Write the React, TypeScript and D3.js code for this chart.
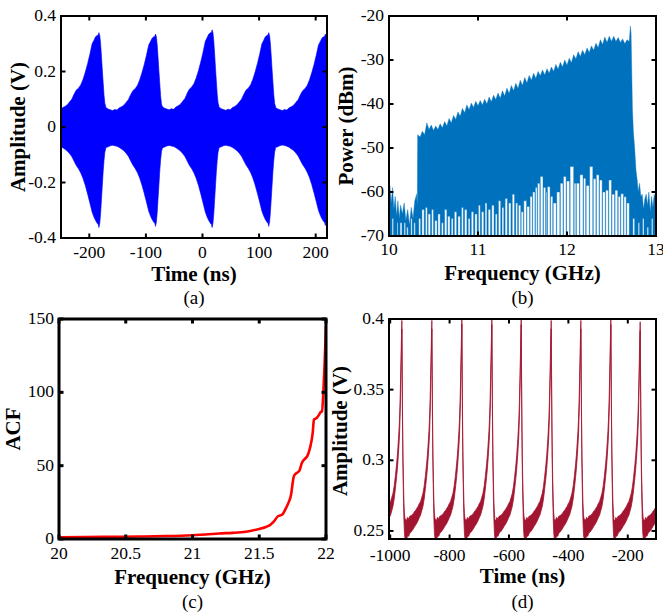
import React from 'react';
import * as d3 from 'd3';

const W = 663, H = 615;
const FONT = '"Liberation Serif", "Times New Roman", serif';

// ---------- Panel (a): time trace envelope ----------
const aTicksX = [-200, -100, 0, 100, 200];
const aTicksY = [-0.4, -0.2, 0, 0.2, 0.4];
const aPhase = [-88, -84, -80, -76, -72, -68, -64, -60, -56, -52, -48, -44, -40, -36, -32, -28, -24, -20, -16, -12, -9, -6, -3, -1, 0, 1.5, 3, 4.5, 6, 7.5, 9, 10.5, 12];
const aUpper = [0.072, 0.066, 0.063, 0.060, 0.064, 0.062, 0.070, 0.074, 0.080, 0.090, 0.100, 0.118, 0.133, 0.140, 0.152, 0.172, 0.198, 0.228, 0.262, 0.300, 0.312, 0.325, 0.330, 0.332, 0.340, 0.330, 0.300, 0.255, 0.205, 0.160, 0.115, 0.085, 0.074];
const aLower = [-0.075, -0.072, -0.068, -0.066, -0.068, -0.070, -0.074, -0.080, -0.086, -0.095, -0.106, -0.122, -0.138, -0.150, -0.165, -0.185, -0.210, -0.240, -0.272, -0.305, -0.322, -0.335, -0.345, -0.350, -0.360, -0.345, -0.310, -0.260, -0.210, -0.160, -0.120, -0.090, -0.078];
const aPeakTimes = [-183, -83, 17, 117, 217];
const aPeakUpper = [0.340, 0.335, 0.350, 0.340, 0.335];
const aPeakLower = [-0.362, -0.358, -0.362, -0.358, -0.355];

// ---------- Panel (b): spectrum ----------
const bTicksX = [10, 11, 12, 13];
const bTicksY = [-70, -60, -50, -40, -30, -20];
const bUpper: [number, number][] = [
  [10.00, -60], [10.01, -58.5], [10.025, -62.5], [10.04, -59], [10.055, -64], [10.07, -61], [10.085, -65.5], [10.10, -62],
  [10.115, -66], [10.13, -63], [10.15, -65], [10.17, -62.5], [10.19, -66.5], [10.21, -64], [10.23, -67.5], [10.25, -63.5],
  [10.27, -66], [10.29, -62], [10.31, -60.5], [10.318, -63], [10.322, -47], [10.35, -47.5], [10.375, -46.2], [10.40, -47],
  [10.425, -44.3], [10.45, -45.8], [10.475, -44.8], [10.50, -46], [10.525, -45], [10.55, -45.8], [10.575, -44.5], [10.60, -45.4],
  [10.625, -44], [10.65, -45], [10.675, -43.3], [10.70, -44.3], [10.725, -42.6], [10.75, -43.5], [10.775, -41.8], [10.80, -42.8],
  [10.825, -41], [10.85, -42], [10.875, -40.2], [10.90, -41.3], [10.925, -39.8], [10.95, -40.8], [10.975, -39.4], [11.00, -40.4],
  [11.025, -39.2], [11.05, -40.2], [11.075, -38.9], [11.10, -40], [11.125, -38.4], [11.15, -39.5], [11.175, -38], [11.20, -39],
  [11.225, -37.5], [11.25, -38.7], [11.275, -37], [11.30, -38.2], [11.325, -36.4], [11.35, -37.6], [11.375, -35.8], [11.40, -37],
  [11.425, -35.3], [11.45, -36.5], [11.475, -34.6], [11.50, -35.8], [11.525, -34], [11.55, -35.2], [11.575, -33.5], [11.60, -34.6],
  [11.625, -33], [11.65, -34.2], [11.675, -32.6], [11.70, -33.6], [11.725, -32.3], [11.75, -33.4], [11.775, -32], [11.80, -33],
  [11.825, -31.6], [11.85, -32.6], [11.875, -31], [11.90, -32.1], [11.925, -30.5], [11.95, -31.6], [11.975, -30], [12.00, -31.2],
  [12.025, -29.6], [12.05, -30.6], [12.075, -28.8], [12.10, -29.8], [12.125, -28.1], [12.15, -29.2], [12.175, -27.8], [12.20, -28.8],
  [12.225, -27.3], [12.25, -28.3], [12.275, -26.8], [12.30, -27.8], [12.325, -26.2], [12.35, -27.2], [12.375, -25.4], [12.40, -26.5],
  [12.425, -24.8], [12.45, -26], [12.475, -24.6], [12.50, -25.8], [12.525, -24.6], [12.55, -25.8], [12.575, -24.9], [12.60, -26],
  [12.625, -25.2], [12.65, -26.3], [12.675, -25.4], [12.70, -25.8], [12.712, -22.3], [12.72, -24], [12.728, -33], [12.735, -41],
  [12.745, -46], [12.76, -50], [12.775, -55], [12.79, -57.5], [12.80, -60], [12.815, -58], [12.83, -61], [12.845, -60.5],
  [12.86, -64], [12.875, -61.5], [12.89, -60.5], [12.905, -63], [12.92, -60], [12.935, -64.5], [12.95, -61], [12.965, -63.5],
  [12.98, -60.5], [13.00, -62],
];
// white gaps below the spectrum: [start GHz, end GHz, top dBm]
const bGaps: [number, number, number][] = [
  [10.035, 10.05, -66], [10.09, 10.1, -67], [10.125, 10.145, -67], [10.17, 10.185, -67], [10.2, 10.215, -68], [10.245, 10.26, -66], [10.28, 10.295, -67],
  [10.335, 10.355, -66], [10.37, 10.395, -64], [10.41, 10.43, -63.5], [10.44, 10.465, -65], [10.48, 10.5, -64], [10.515, 10.54, -66.5], [10.55, 10.575, -65],
  [10.59, 10.61, -67], [10.625, 10.65, -64], [10.66, 10.685, -65.5], [10.70, 10.72, -66], [10.735, 10.76, -64.5], [10.775, 10.8, -65.5], [10.815, 10.835, -63.5],
  [10.85, 10.875, -64], [10.89, 10.91, -66], [10.925, 10.95, -64.5], [10.965, 10.99, -65], [11.005, 11.025, -63], [11.04, 11.065, -64.5], [11.08, 11.1, -62.5],
  [11.115, 11.14, -64], [11.155, 11.18, -63], [11.195, 11.215, -65], [11.23, 11.255, -62], [11.27, 11.29, -63.5], [11.305, 11.33, -61.5], [11.345, 11.37, -62.5],
  [11.385, 11.41, -60.5], [11.425, 11.445, -62.5],
  [11.455, 11.48, -63], [11.485, 11.51, -64.5], [11.515, 11.545, -62], [11.55, 11.58, -63.3], [11.585, 11.61, -61], [11.615, 11.64, -60], [11.645, 11.665, -59],
  [11.67, 11.695, -58], [11.70, 11.73, -56.5], [11.735, 11.76, -59], [11.765, 11.775, -60], [11.78, 11.81, -58.8], [11.815, 11.84, -61], [11.845, 11.88, -62.5],
  [11.885, 11.92, -60], [11.925, 11.955, -58], [11.96, 11.99, -56.5], [11.995, 12.03, -57.5], [12.035, 12.075, -54.2], [12.08, 12.1, -58], [12.105, 12.14, -58],
  [12.145, 12.18, -56.1], [12.185, 12.21, -56.9], [12.215, 12.25, -58.5], [12.255, 12.29, -54.2], [12.295, 12.325, -57], [12.33, 12.36, -56.1], [12.365, 12.395, -57.3],
  [12.40, 12.43, -60], [12.435, 12.465, -59.6], [12.47, 12.50, -57.3], [12.505, 12.535, -60.5], [12.54, 12.57, -59.6], [12.575, 12.60, -61], [12.605, 12.635, -60.4],
  [12.64, 12.665, -61.1], [12.67, 12.70, -62.5],
  [12.74, 12.76, -66], [12.80, 12.815, -67], [12.85, 12.865, -66], [12.9, 12.915, -68], [12.95, 12.965, -66],
];

// ---------- Panel (c): ACF ----------
const cTicksX = [20, 20.5, 21, 21.5, 22];
const cTicksY = [0, 50, 100, 150];
const cFreq = [20, 20.2, 20.4, 20.6, 20.8, 21.0, 21.1, 21.2, 21.3, 21.4, 21.45, 21.5, 21.55, 21.58, 21.61, 21.64, 21.67, 21.70, 21.72, 21.74, 21.75, 21.76, 21.78, 21.80, 21.82, 21.84, 21.86, 21.88, 21.90, 21.91, 21.93, 21.95, 21.96, 21.97, 21.98, 21.99, 22.0];
const cAcf = [1.2, 1.3, 1.5, 1.7, 2.0, 2.6, 3.1, 3.8, 4.2, 5.0, 5.8, 6.8, 8.2, 9.5, 12, 15.5, 16.5, 21, 25, 31, 38, 43, 45, 46.5, 52, 54.5, 56.5, 62, 72, 81.5, 82.5, 85, 86.5, 87, 100, 120, 146];

// ---------- Panel (d): pulse train ----------
const dTicksX = [-1000, -800, -600, -400, -200];
const dTicksY = [0.25, 0.3, 0.35, 0.4];
const dPhase = [-90, -86, -82, -78, -74, -70, -66, -62, -58, -54, -50, -46, -42, -38, -34, -30, -26, -22, -18, -15, -12, -10, -8, -6, -4.5, -3, -2, -1, 0, 1, 2, 3, 4, 5.5, 7, 8.5, 10];
const dCenter = [0.2515, 0.2500, 0.2530, 0.2525, 0.2545, 0.2550, 0.2560, 0.2570, 0.2585, 0.2595, 0.2610, 0.2625, 0.2645, 0.2660, 0.2690, 0.2720, 0.2770, 0.2840, 0.2920, 0.2990, 0.3080, 0.3150, 0.3230, 0.3360, 0.3500, 0.3650, 0.3760, 0.3850, 0.397, 0.3650, 0.3350, 0.3120, 0.2950, 0.2780, 0.2640, 0.2560, 0.2525];
const dHalf = [0.0070, 0.0072, 0.0066, 0.0062, 0.0060, 0.0058, 0.0056, 0.0054, 0.0054, 0.0052, 0.0052, 0.0050, 0.0050, 0.0048, 0.0047, 0.0046, 0.0045, 0.0045, 0.0046, 0.0048, 0.0050, 0.0052, 0.0054, 0.0055, 0.0055, 0.0054, 0.0050, 0.0042, 0.0030, 0.0042, 0.0048, 0.0050, 0.0052, 0.0055, 0.0062, 0.0068, 0.0070];
const dPeakTimes = [-960.7, -859.7, -758.7, -657.7, -558.9, -457.9, -358, -257, -158.2, -57.5];
const dPeakValues = [0.396, 0.396, 0.3995, 0.399, 0.399, 0.396, 0.396, 0.399, 0.395, 0.397];

const TICK_FS = 17.5;
const TITLE_FS = 21;
const TAG_FS = 19;

type PanelProps = {
  id: string;
  xs: d3.ScaleLinear<number, number>;
  ys: d3.ScaleLinear<number, number>;
  xTicks: number[];
  yTicks: number[];
  xTitle: string;
  yTitle: string;
  tag: string;
  xLabBase: number;
  xTitleBase: number;
  tagBase: number;
  yTitleX: number;
  yTitleY: number;
  frameW: number;
  children: React.ReactNode;
};

function Panel(p: PanelProps) {
  const [x0, x1] = p.xs.range();
  const [y1, y0] = p.ys.range();
  const tl = 4.5;
  const cx = (x0 + x1) / 2;
  return (
    <g>
      <defs>
        <clipPath id={p.id}>
          <rect x={x0} y={y0} width={x1 - x0} height={y1 - y0} />
        </clipPath>
      </defs>
      <g clipPath={`url(#${p.id})`}>{p.children}</g>
      <rect x={x0} y={y0} width={x1 - x0} height={y1 - y0} fill="none" stroke="#000" strokeWidth={p.frameW} />
      {p.xTicks.map((t) => (
        <g key={'xt' + t}>
          <line x1={p.xs(t)} x2={p.xs(t)} y1={y1} y2={y1 - tl} stroke="#000" strokeWidth={p.frameW} />
          <line x1={p.xs(t)} x2={p.xs(t)} y1={y0} y2={y0 + tl} stroke="#000" strokeWidth={p.frameW} />
          <text x={p.xs(t)} y={p.xLabBase} textAnchor="middle" fontSize={TICK_FS}>{String(t)}</text>
        </g>
      ))}
      {p.yTicks.map((t) => (
        <g key={'yt' + t}>
          <line x1={x0} x2={x0 + tl} y1={p.ys(t)} y2={p.ys(t)} stroke="#000" strokeWidth={p.frameW} />
          <line x1={x1} x2={x1 - tl} y1={p.ys(t)} y2={p.ys(t)} stroke="#000" strokeWidth={p.frameW} />
          <text x={x0 - 5} y={p.ys(t) + 5} textAnchor="end" fontSize={TICK_FS}>{String(t)}</text>
        </g>
      ))}
      <text x={cx} y={p.xTitleBase} textAnchor="middle" fontSize={TITLE_FS} fontWeight="bold">{p.xTitle}</text>
      <text transform={`translate(${p.yTitleX},${p.yTitleY}) rotate(-90)`} textAnchor="middle" fontSize={TITLE_FS} fontWeight="bold">{p.yTitle}</text>
      <text x={cx} y={p.tagBase} textAnchor="middle" fontSize={TAG_FS}>{p.tag}</text>
    </g>
  );
}

export default function App() {
  // (a)
  const axs = d3.scaleLinear().domain([-250, 220]).range([61, 327]);
  const ays = d3.scaleLinear().domain([-0.4, 0.4]).range([238, 16]);
  const aPts: { t: number; hi: number; lo: number }[] = [];
  aPeakTimes.forEach((pt, k) => {
    aPhase.forEach((ph, i) => {
      aPts.push({ t: pt + ph, hi: aUpper[i] * aPeakUpper[k] / 0.34, lo: aLower[i] * aPeakLower[k] / -0.36 });
    });
  });
  const aArea = d3.area<{ t: number; hi: number; lo: number }>()
    .x((d) => axs(d.t)).y0((d) => ays(d.lo)).y1((d) => ays(d.hi))(aPts) || '';

  // (b)
  const bxs = d3.scaleLinear().domain([10, 13]).range([389, 656]);
  const bys = d3.scaleLinear().domain([-70, -20]).range([236, 16]);
  const bLower: [number, number][] = [[10, -70]];
  bGaps.forEach(([s, e, top]) => {
    bLower.push([s, -70], [s, top], [e, top], [e, -70]);
  });
  bLower.push([13, -70]);
  const bPoly = [...bUpper, ...bLower.slice().reverse()];
  const bPath = (d3.line<[number, number]>().x((d) => bxs(d[0])).y((d) => bys(d[1]))(bPoly) || '') + 'Z';

  // (c)
  const cxs = d3.scaleLinear().domain([20, 22]).range([59, 326]);
  const cys = d3.scaleLinear().domain([0, 150]).range([539, 319]);
  const cPath = d3.line<number>().x((_, i) => cxs(cFreq[i])).y((d) => cys(d)).curve(d3.curveMonotoneX)(cAcf) || '';

  // (d)
  const dxs = d3.scaleLinear().domain([-1004, -105]).range([389, 656]);
  const dys = d3.scaleLinear().domain([0.2443, 0.4]).range([539, 319]);
  const dPts: { t: number; c: number; h: number }[] = [];
  dPeakTimes.forEach((pt, k) => {
    dPhase.forEach((ph, i) => {
      const c = ph === 0 ? dPeakValues[k] : dCenter[i];
      dPts.push({ t: pt + ph, c, h: dHalf[i] });
    });
  });
  const dArea = d3.area<{ t: number; c: number; h: number }>()
    .x((d) => dxs(d.t)).y0((d) => dys(d.c - d.h)).y1((d) => dys(d.c + d.h))(dPts) || '';

  return (
    <svg width={W} height={H} viewBox={`0 0 ${W} ${H}`}
      style={{ position: 'absolute', left: 0, top: 0, background: '#fff' }}
      fontFamily={FONT}>
      <rect x={0} y={0} width={W} height={H} fill="#fff" />
      <Panel id="clipA" xs={axs} ys={ays} xTicks={aTicksX} yTicks={aTicksY}
        xTitle="Time (ns)" yTitle="Amplitude (V)" tag="(a)"
        xLabBase={258} xTitleBase={281} tagBase={304} yTitleX={25} yTitleY={127} frameW={2}>
        <path d={aArea} fill="#0000ff" stroke="#0000ff" strokeWidth={0.6} />
      </Panel>
      <Panel id="clipB" xs={bxs} ys={bys} xTicks={bTicksX} yTicks={bTicksY}
        xTitle="Frequency (GHz)" yTitle="Power (dBm)" tag="(b)"
        xLabBase={255} xTitleBase={280} tagBase={304} yTitleX={353} yTitleY={126} frameW={2}>
        <path d={bPath} fill="#0072bd" stroke="#0072bd" strokeWidth={0.4} />
      </Panel>
      <Panel id="clipC" xs={cxs} ys={cys} xTicks={cTicksX} yTicks={cTicksY}
        xTitle="Frequency (GHz)" yTitle="ACF" tag="(c)"
        xLabBase={559} xTitleBase={584} tagBase={608} yTitleX={20} yTitleY={429} frameW={3}>
        <path d={cPath} fill="none" stroke="#ff0000" strokeWidth={2.6} />
      </Panel>
      <Panel id="clipD" xs={dxs} ys={dys} xTicks={dTicksX} yTicks={dTicksY}
        xTitle="Time (ns)" yTitle="Amplitude (V)" tag="(d)"
        xLabBase={561} xTitleBase={583} tagBase={608} yTitleX={347} yTitleY={431} frameW={2}>
        <path d={dArea} fill="#a2142f" stroke="#a2142f" strokeWidth={0.8} />
      </Panel>
    </svg>
  );
}
